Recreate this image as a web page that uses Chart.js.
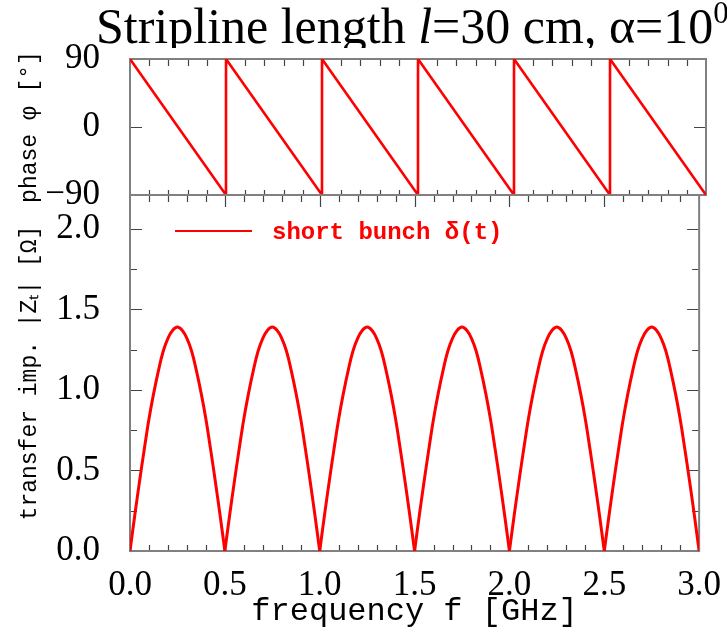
<!DOCTYPE html>
<html>
<head>
<meta charset="utf-8">
<title>stripline transfer impedance</title>
<script src="https://cdn.jsdelivr.net/npm/chart.js"></script>
<style>
  body { margin: 0; background: #fff; }
  #wrap { position: relative; width: 727px; height: 631px; overflow: hidden; }
  #wrap canvas { position: absolute; left: 0; top: 0; }
  #title {
    position: absolute; left: 96px; top: 0; height: 48px; overflow: hidden;
    font-family: "Liberation Serif", serif; font-size: 50px; line-height: 50px;
    white-space: nowrap; color: #000; z-index: 2;
  }
  #title .in { position: relative; top: 1px; }
  #title sup { font-size: 31px; line-height: 0; position: relative; top: -2px; }
  #legend {
    position: absolute; left: 175px; top: 219px; z-index: 2;
    font-family: "Liberation Mono", monospace; font-weight: bold; font-size: 24px;
    color: #ff0000; white-space: nowrap;
  }
  #legend .ln { display: inline-block; width: 77px; height: 2px; background: #ff0000;
    vertical-align: middle; margin-right: 20px; position: relative; top: -2px; }
</style>
</head>
<body>
<div id="wrap">
  <div id="title"><span class="in">Stripline length <i>l</i>=30 cm, α=10<sup>0</sup></span></div>
  <div id="legend"><span class="ln"></span>short bunch δ(t)</div>
  <canvas id="phaseChart" width="727" height="631"></canvas>
  <canvas id="zChart" width="727" height="631"></canvas>
</div>
<script>
// phase: sawtooth corners
var phaseFreq = [0.0, 0.5, 0.5, 1.0, 1.0, 1.5, 1.5, 2.0, 2.0, 2.5, 2.5, 3.0];
var phaseDeg  = [90, -90, 90, -90, 90, -90, 90, -90, 90, -90, 90, -90];

// transfer impedance |Zt| in Ohm, read every 25 MHz
var freqGHz = [
  0.000,0.025,0.050,0.075,0.100,0.125,0.150,0.175,0.200,0.225,0.250,0.275,0.300,0.325,0.350,0.375,0.400,0.425,0.450,0.475,0.500,
  0.525,0.550,0.575,0.600,0.625,0.650,0.675,0.700,0.725,0.750,0.775,0.800,0.825,0.850,0.875,0.900,0.925,0.950,0.975,1.000,
  1.025,1.050,1.075,1.100,1.125,1.150,1.175,1.200,1.225,1.250,1.275,1.300,1.325,1.350,1.375,1.400,1.425,1.450,1.475,1.500,
  1.525,1.550,1.575,1.600,1.625,1.650,1.675,1.700,1.725,1.750,1.775,1.800,1.825,1.850,1.875,1.900,1.925,1.950,1.975,2.000,
  2.025,2.050,2.075,2.100,2.125,2.150,2.175,2.200,2.225,2.250,2.275,2.300,2.325,2.350,2.375,2.400,2.425,2.450,2.475,2.500,
  2.525,2.550,2.575,2.600,2.625,2.650,2.675,2.700,2.725,2.750,2.775,2.800,2.825,2.850,2.875,2.900,2.925,2.950,2.975,3.000
];
var zOhm = [
  0.00,0.22,0.43,0.63,0.82,0.98,1.12,1.24,1.32,1.37,1.39,1.37,1.32,1.24,1.12,0.98,0.82,0.63,0.43,0.22,0.00,
  0.22,0.43,0.63,0.82,0.98,1.12,1.24,1.32,1.37,1.39,1.37,1.32,1.24,1.12,0.98,0.82,0.63,0.43,0.22,0.00,
  0.22,0.43,0.63,0.82,0.98,1.12,1.24,1.32,1.37,1.39,1.37,1.32,1.24,1.12,0.98,0.82,0.63,0.43,0.22,0.00,
  0.22,0.43,0.63,0.82,0.98,1.12,1.24,1.32,1.37,1.39,1.37,1.32,1.24,1.12,0.98,0.82,0.63,0.43,0.22,0.00,
  0.22,0.43,0.63,0.82,0.98,1.12,1.24,1.32,1.37,1.39,1.37,1.32,1.24,1.12,0.98,0.82,0.63,0.43,0.22,0.00,
  0.22,0.43,0.63,0.82,0.98,1.12,1.24,1.32,1.37,1.39,1.37,1.32,1.24,1.12,0.98,0.82,0.63,0.43,0.22,0.00
];

var xTickLabels = ['0.0', '0.5', '1.0', '1.5', '2.0', '2.5', '3.0'];
var zTickLabels = ['0.0', '0.5', '1.0', '1.5', '2.0'];
var phaseTickLabels = ['\u221290', '0', '90'];

var tickFont = { family: 'Liberation Serif', size: 35 };
var titleFont = { family: 'Liberation Mono', size: 23 };

// split the |Z| curve into arches at its zeros so each arch can be smoothed
// while the cusps at the zeros stay sharp
var arches = [];
var cur = [];
freqGHz.forEach(function(f, i) {
  cur.push({ x: f, y: zOhm[i] });
  if (zOhm[i] === 0 && cur.length > 1) {
    arches.push(cur);
    cur = [{ x: f, y: zOhm[i] }];
  }
});
if (cur.length > 1) arches.push(cur);

// frame + inward ticks, drawn from the chart's own scales
var frameTicks = {
  id: 'frameTicks',
  beforeDatasetsDraw: function(chart, args, o) {
    var ctx = chart.ctx, a = chart.chartArea, x = chart.scales.x, y = chart.scales.y;
    ctx.save();
    ctx.strokeStyle = '#444';
    ctx.lineWidth = 1.2;
    ctx.beginPath();
    for (var i = 1; i < 30; i++) {
      var v = i / 10;
      var major = (i % 5 === 0);
      var px = Math.round(x.getPixelForValue(v)) + 0.5;
      var t = major ? o.topMajor : o.topMinor;
      var b = major ? o.botMajor : o.botMinor;
      if (t) { ctx.moveTo(px, a.top - (t[0] || 0)); ctx.lineTo(px, a.top + t[1]); }
      if (b) { ctx.moveTo(px, a.bottom + (b[0] || 0)); ctx.lineTo(px, a.bottom - b[1]); }
    }
    o.yTicks.forEach(function(tk) {
      var py = Math.round(y.getPixelForValue(tk[0])) + 0.5;
      ctx.moveTo(a.left, py); ctx.lineTo(a.left + tk[1], py);
      ctx.moveTo(a.right, py); ctx.lineTo(a.right - tk[1], py);
    });
    ctx.stroke();
    ctx.strokeStyle = '#808080';
    ctx.lineWidth = 2;
    ctx.strokeRect(a.left, a.top, a.right - a.left, a.bottom - a.top);
    ctx.restore();
  }
};

new Chart(document.getElementById('phaseChart'), {
  type: 'line',
  data: {
    datasets: [{
      data: phaseFreq.map(function(f, i) { return { x: f, y: phaseDeg[i] }; }),
      borderColor: '#ff0000', borderWidth: 2.6, pointRadius: 0, tension: 0
    }]
  },
  options: {
    responsive: false, animation: false,
    layout: { padding: { top: 59, right: 21, bottom: 436, left: 0 } },
    plugins: {
      legend: { display: false }, tooltip: { enabled: false },
      frameTicks: {
        topMinor: [0, 7], topMajor: [0, 7],
        botMinor: [0, 5], botMajor: null,
        yTicks: [[0, 12]]
      }
    },
    scales: {
      x: {
        type: 'linear', min: 0, max: 3,
        grid: { display: false }, border: { display: false },
        ticks: { display: false },
        afterFit: function(s) { s.height = 0; }
      },
      y: {
        min: -90, max: 90,
        grid: { display: false }, border: { display: false },
        ticks: {
          stepSize: 90, padding: 22, color: '#000', font: tickFont,
          callback: function(v, i) { return phaseTickLabels[i]; }
        },
        title: { display: true, text: 'phase \u03c6 [\u00b0]', color: '#000', font: titleFont, padding: { top: 16, bottom: 0 } },
        afterFit: function(s) { s.width = 130; }
      }
    }
  },
  plugins: [frameTicks]
});

new Chart(document.getElementById('zChart'), {
  type: 'line',
  data: {
    datasets: arches.map(function(pts) {
      return { data: pts, borderColor: '#ff0000', borderWidth: 3, pointRadius: 0, tension: 0.4 };
    })
  },
  options: {
    responsive: false, animation: false,
    layout: { padding: { top: 195, right: 21, bottom: 0, left: 0 } },
    plugins: {
      legend: { display: false }, tooltip: { enabled: false },
      frameTicks: {
        topMinor: [0, 7], topMajor: [0, 12],
        botMinor: [0, 6], botMajor: [0, 6],
        yTicks: [[0.25, 7], [0.5, 12], [0.75, 7], [1.0, 12], [1.25, 7], [1.5, 12], [1.75, 7], [2.0, 12]]
      }
    },
    scales: {
      x: {
        type: 'linear', min: 0, max: 3,
        grid: { display: false }, border: { display: false },
        ticks: {
          stepSize: 0.5, padding: 6, color: '#000', font: tickFont, maxRotation: 0,
          callback: function(v, i) { return xTickLabels[i]; }
        },
        title: { display: true, text: 'frequency f [GHz]', color: '#000', font: { family: 'Liberation Mono', size: 32 }, padding: { top: 0, bottom: 0 } },
        afterFit: function(s) { s.height = 80; }
      },
      y: {
        min: 0, max: 2.21,
        grid: { display: false }, border: { display: false },
        ticks: {
          stepSize: 0.5, includeBounds: false, padding: 22, color: '#000', font: tickFont,
          callback: function(v, i) { return zTickLabels[i]; }
        },
        title: { display: true, text: 'transfer imp. |Z\u209c| [\u03a9]', color: '#000', font: titleFont, padding: { top: 16, bottom: 0 } },
        afterFit: function(s) { s.width = 130; }
      }
    }
  },
  plugins: [frameTicks]
});
</script>
</body>
</html>
